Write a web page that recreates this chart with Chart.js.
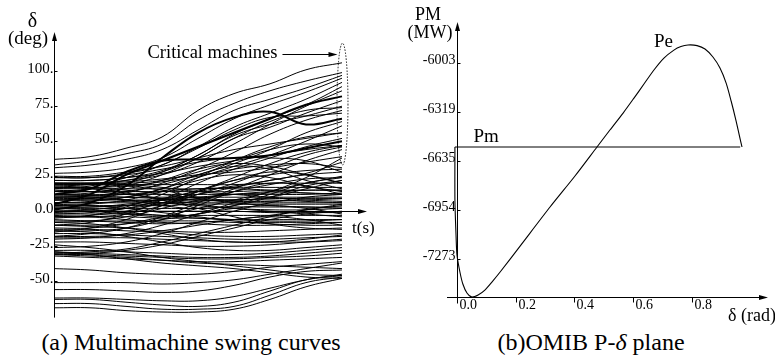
<!DOCTYPE html>
<html>
<head>
<meta charset="utf-8">
<script src="https://cdn.jsdelivr.net/npm/chart.js@4.4.1/dist/chart.umd.min.js"></script>
<style>
  html, body { margin: 0; padding: 0; background: #fff; }
  body { width: 775px; height: 356px; position: relative; overflow: hidden; font-family: "Liberation Serif", "Times New Roman", serif; color: #000; }
  .panel { position: absolute; top: 0; height: 325px; }
  .cap { position: absolute; top: 329px; font-size: 24px; line-height: 26px; text-align: center; white-space: nowrap; }
</style>
</head>
<body>
<div class="panel" style="left:0;width:390px"><canvas id="swing"></canvas></div>
<div class="panel" style="left:390px;width:385px"><canvas id="omib"></canvas></div>
<div class="cap" style="left:41px;width:300px">(a) Multimachine swing curves</div>
<div class="cap" style="left:491px;width:200px">(b)OMIB P-<i>δ</i> plane</div>

<script>
// ---------- (a) rotor angle swing curves, degrees, sampled every 0.2 s ----------
const swingTimes = [0, 0.2, 0.4, 0.6, 0.8, 1.0, 1.2, 1.4, 1.6];
const swingTicks = [-50, -25, 0, 25, 50, 75, 100];
const swingTickLabels = ['-50.', '-25.', '0.0', '25.', '50.', '75.', '100.'];
const criticalBand = [33, 120];      // angle range circled at the end of the run
const criticalLabelLevel = 112;

// machines that pull away (critical group)
const upperCurves = [
  [37, 39, 45, 53, 72, 84, 91, 101, 106],
  [33, 36, 41, 48, 65, 77, 86, 93, 99],
  [31, 33, 37, 44, 58, 72, 80, 88, 97],
  [27, 28, 31, 38, 52, 66, 76, 85, 95],
  [24, 24, 27, 33, 46, 60, 70, 80, 92],
  [22, 22, 24, 29, 40, 55, 66, 76, 89],
  [20, 20, 22, 26, 35, 48, 62, 75, 86],
  [18, 19, 22, 28, 38, 52, 60, 70, 79],
  [14, 16, 20, 28, 40, 54, 62, 68, 75],
  [16, 18, 24, 33, 45, 58, 67, 68, 70],
  [12, 13, 18, 26, 38, 52, 64, 72, 74],
  [8, 9, 13, 20, 30, 42, 55, 65, 72],
  [25, 25, 28, 32, 38, 44, 48, 52, 56],
  [22, 22, 24, 27, 32, 36, 40, 44, 47],
  [20, 20, 21, 23, 26, 28, 31, 35, 39],
  [17, 17, 18, 21, 25, 30, 33, 34, 31],
  [24, 24, 26, 30, 35, 38, 38, 36, 28],
  [10, 11, 14, 19, 26, 34, 44, 56, 64],
  [6, 7, 10, 16, 24, 32, 40, 50, 61]
];
const heavyCurves = [
  [5, 12, 26, 36, 46, 56, 66, 76, 82],
  [1, 6, 18, 38, 56, 67, 71, 62, 66],
  [12, 16, 28, 36, 37, 38, 40, 45, 50]
];
const crossingCurves = [
  [-5, -3, 3, 12, 24, 36, 46, 53, 56],
  [-10, -8, -2, 8, 20, 30, 38, 46, 52],
  [-15, -12, -6, 4, 14, 24, 34, 42, 47],
  [-18, -16, -12, -4, 6, 16, 26, 36, 44],
  [-8, -7, -4, 2, 8, 14, 19, 23, 24],
  [-20, -19, -16, -10, -2, 6, 14, 20, 25],
  [-2, -1, 2, 8, 15, 22, 26, 29, 30],
  [0, 1, 4, 9, 14, 18, 22, 27, 35],
  [-12, -12, -9, -4, 2, 8, 14, 24, 38],
  [-30, -30, -28, -24, -18, -12, -6, -2, 0],
  [-26, -25, -22, -16, -8, 0, 6, 10, 12],
  [-30, -29, -27, -22, -16, -10, -4, 1, 4],
  [-6, -7, -8, -9, -8, -6, -3, 1, 5],
  [3, 3, 5, 8, 12, 17, 22, 26, 28],
  [-4, -4, -2, 4, 12, 20, 30, 40, 46],
  [20, 20, 20, 22, 28, 36, 44, 48, 46]
];
// machines that swing up and come back
const swayCurves = [
  [14, 14, 16, 22, 30, 34, 32, 26, 20],
  [8, 8, 10, 16, 26, 32, 30, 22, 16],
  [-4, -3, 0, 6, 14, 22, 28, 26, 20],
  [4, 5, 8, 14, 22, 26, 24, 18, 14],
  [-14, -14, -12, -6, 4, 14, 20, 18, 12],
  [0, 0, -2, -4, -2, 4, 12, 20, 24],
  [10, 10, 8, 4, 2, 4, 10, 18, 22],
  [19, 19, 18, 15, 10, 8, 10, 16, 22],
  [-10, -10, -9, -6, -2, 2, 4, 2, -2],
  [-18, -18, -17, -14, -10, -6, -4, -6, -10],
  [17, 16, 13, 8, 2, -4, -9, -12, -13]
];
const flatCurves = [
  [19, 19, 19, 19, 19, 19, 20, 20, 20],
  [16, 16, 16, 16, 16, 17, 17, 17, 17],
  [14, 14, 14, 14, 14, 14, 15, 15, 15],
  [12, 12, 12, 12, 12, 12, 12, 12, 13],
  [10, 10, 10, 10, 10, 10, 10, 10, 10],
  [8, 8, 8, 8, 8, 8, 9, 9, 9],
  [6, 6, 6, 6, 6, 6, 6, 6, 6],
  [4, 4, 4, 4, 5, 5, 5, 5, 5],
  [2, 2, 2, 2, 2, 3, 3, 3, 3],
  [0, 0, 0, 0, 0, 0, -1, -1, -1],
  [-2, -2, -2, -3, -3, -3, -3, -3, -3],
  [-4, -4, -4, -5, -5, -6, -6, -6, -6],
  [-7, -7, -7, -7, -7, -8, -8, -8, -8]
];
const driftCurves = [
  [6, 6, 7, 8, 10, 12, 13, 13, 12],
  [3, 3, 4, 6, 9, 12, 14, 15, 15],
  [12, 11, 10, 9, 8, 7, 7, 8, 9],
  [9, 9, 8, 6, 4, 2, 1, 1, 2],
  [15, 14, 12, 9, 5, 2, 0, -2, -4],
  [2, 1, -1, -3, -5, -6, -7, -7, -6],
  [-3, -4, -6, -8, -9, -10, -10, -9, -8],
  [5, 4, 2, -1, -4, -7, -9, -10, -10],
  [20, 20, 19, 17, 14, 12, 10, 8, 7],
  [11, 11, 12, 14, 16, 16, 15, 13, 12],
  [-1, 0, 2, 5, 7, 8, 8, 7, 6],
  [18, 17, 15, 12, 9, 6, 4, 3, 2]
];
const lowerCurves = [
  [-10, -11, -12, -14, -15, -15, -14, -13, -12],
  [-13, -13, -14, -15, -17, -18, -18, -17, -16],
  [-16, -16, -17, -18, -19, -20, -20, -19, -18],
  [-19, -19, -19, -20, -21, -22, -22, -22, -21],
  [-22, -22, -23, -24, -25, -25, -24, -22, -20],
  [-28, -28, -29, -30, -31, -31, -30, -28, -26],
  [-29, -30, -31, -32, -33, -33, -32, -30, -28],
  [-31, -31, -32, -33, -34, -34, -33, -32, -30],
  [-32, -33, -34, -35, -36, -36, -35, -34, -33],
  [-29, -31, -34, -37, -39, -41, -44, -47, -48],
  [-24, -26, -29, -33, -36, -39, -42, -45, -46],
  [-41, -42, -44, -45, -45, -43, -40, -38, -36],
  [-31, -32, -33, -35, -37, -38, -39, -40, -41],
  [-14, -15, -18, -22, -26, -28, -28, -26, -24],
  [-8, -9, -12, -16, -20, -22, -22, -20, -17]
];
const bottomCurves = [
  [-69, -69, -71, -72, -72, -70, -63, -54, -48],
  [-66, -66, -68, -70, -70, -68, -60, -51, -47],
  [-63, -63, -65, -67, -68, -65, -57, -49, -46],
  [-62, -62, -63, -64, -64, -61, -55, -49, -45],
  [-56, -56, -57, -58, -57, -53, -47, -43, -42],
  [-51, -51, -51, -52, -51, -49, -45, -41, -37]
];

// ---------- (b) OMIB equivalent, power vs angle ----------
const peDelta = [-0.007, -0.007, -0.003, 0, 0.010, 0.020, 0.034, 0.051, 0.072, 0.095, 0.119, 0.147,
                 0.215, 0.317, 0.402, 0.477, 0.521, 0.566, 0.603, 0.637, 0.671, 0.705, 0.739, 0.763,
                 0.787, 0.818, 0.845, 0.872, 0.896, 0.917, 0.934, 0.951, 0.964, 0.971];
const pePower = [-6547, -6891, -7131, -7247, -7357, -7435, -7493, -7519, -7506, -7474, -7422, -7357,
                 -7189, -6936, -6735, -6547, -6437, -6327, -6230, -6139, -6048, -5971, -5919, -5896,
                 -5886, -5890, -5912, -5964, -6035, -6133, -6249, -6379, -6489, -6547];
const pmDelta = [-0.007, 0.965];
const pmPower = [-6547, -6547];
const omibPowerTicks = [-6003, -6319, -6635, -6954, -7273];
const omibAngleTicks = [0, 0.2, 0.4, 0.6, 0.8];
const omibAngleLabels = ['0.0', '0.2', '0.4', '0.6', '0.8'];

const SERIF = '"Liberation Serif", "Times New Roman", serif';

function arrowHead(ctx, x, y, dir) {
  ctx.beginPath();
  if (dir === 'up') {
    ctx.moveTo(x, y); ctx.lineTo(x - 2.5, y + 9); ctx.lineTo(x + 2.5, y + 9);
  } else {
    ctx.moveTo(x, y); ctx.lineTo(x - 9, y - 2.5); ctx.lineTo(x - 9, y + 2.5);
  }
  ctx.closePath();
  ctx.fill();
}

function curveSet(list, width) {
  return list.map(vals => ({
    data: vals.map((v, i) => ({ x: swingTimes[i], y: v })),
    borderColor: '#000',
    borderWidth: width,
    pointRadius: 0,
    tension: 0.4,
    fill: false
  }));
}

// axes, ticks and annotations of the swing-curve panel
const swingAxes = {
  id: 'swingAxes',
  afterDraw(chart) {
    const { ctx, chartArea: a, scales: { x, y } } = chart;
    const ax = Math.round(x.getPixelForValue(0)) + 0.5;
    const ay = Math.round(y.getPixelForValue(0)) + 0.5;
    ctx.save();
    ctx.strokeStyle = '#000';
    ctx.fillStyle = '#000';
    ctx.lineWidth = 1;
    ctx.beginPath();
    ctx.moveTo(ax, a.bottom); ctx.lineTo(ax, a.top + 6);
    ctx.moveTo(ax, ay); ctx.lineTo(a.right - 6, ay);
    ctx.stroke();
    arrowHead(ctx, ax, a.top, 'up');
    arrowHead(ctx, a.right, ay, 'right');

    ctx.font = '15px ' + SERIF;
    ctx.textAlign = 'right';
    ctx.textBaseline = 'alphabetic';
    swingTicks.forEach((v, i) => {
      const py = Math.round(y.getPixelForValue(v)) + 0.5;
      ctx.beginPath(); ctx.moveTo(ax, py); ctx.lineTo(ax + 3, py); ctx.stroke();
      ctx.fillText(swingTickLabels[i], ax - 1, py + 1);
    });

    ctx.textAlign = 'center';
    ctx.textBaseline = 'middle';
    ctx.font = '20px ' + SERIF;
    ctx.fillText('δ', ax - 22, a.top - 10);
    ctx.font = '19px ' + SERIF;
    ctx.fillText('(deg)', ax - 26.5, a.top + 7);
    ctx.font = '17px ' + SERIF;
    ctx.textAlign = 'left';
    ctx.fillText('t(s)', a.right - 15, ay + 17);

    // circled group of critical machines
    const ex = x.getPixelForValue(swingTimes[swingTimes.length - 1]) + 0.5;
    const eTop = y.getPixelForValue(criticalBand[1]);
    const eBot = y.getPixelForValue(criticalBand[0]);
    ctx.lineWidth = 0.9;
    ctx.setLineDash([1.5, 1.5]);
    ctx.beginPath();
    ctx.ellipse(ex, (eTop + eBot) / 2, 5.5, (eBot - eTop) / 2, 0, 0, Math.PI * 2);
    ctx.stroke();
    ctx.setLineDash([]);
    ctx.lineWidth = 1;
    const ly = Math.round(y.getPixelForValue(criticalLabelLevel)) + 0.5;
    ctx.beginPath(); ctx.moveTo(ex - 60, ly); ctx.lineTo(ex - 12, ly); ctx.stroke();
    arrowHead(ctx, ex - 5, ly, 'right');
    ctx.font = '18.5px ' + SERIF;
    ctx.textAlign = 'right';
    ctx.fillText('Critical machines', ex - 65, ly - 1);
    ctx.restore();
  }
};

// axes, ticks and labels of the P-delta panel
const omibAxes = {
  id: 'omibAxes',
  afterDraw(chart) {
    const { ctx, chartArea: a, scales: { x, y } } = chart;
    const x0 = Math.round(x.getPixelForValue(0)) + 0.5;
    const yb = Math.round(a.bottom) + 0.5;
    ctx.save();
    ctx.strokeStyle = '#000';
    ctx.fillStyle = '#000';
    ctx.lineWidth = 1;
    ctx.beginPath();
    ctx.moveTo(x0, yb + 6); ctx.lineTo(x0, a.top + 6);
    ctx.moveTo(a.left, yb); ctx.lineTo(a.right - 6, yb);
    ctx.stroke();
    arrowHead(ctx, x0, a.top, 'up');
    arrowHead(ctx, a.right, yb, 'right');

    ctx.font = '14px ' + SERIF;
    ctx.textAlign = 'right';
    ctx.textBaseline = 'alphabetic';
    omibPowerTicks.forEach(v => {
      const py = Math.round(y.getPixelForValue(v)) + 0.5;
      ctx.beginPath(); ctx.moveTo(x0, py); ctx.lineTo(x0 + 3, py); ctx.stroke();
      ctx.fillText(String(v), x0 - 2, py);
    });

    ctx.textAlign = 'left';
    omibAngleTicks.forEach((v, i) => {
      const px = Math.round(x.getPixelForValue(v)) + 0.5;
      if (v !== 0) { ctx.beginPath(); ctx.moveTo(px, yb); ctx.lineTo(px, yb + 5); ctx.stroke(); }
      ctx.fillText(omibAngleLabels[i], px + 2, yb + 11);
    });

    ctx.textBaseline = 'middle';
    ctx.textAlign = 'center';
    ctx.font = '18px ' + SERIF;
    ctx.fillText('PM', x0 - 29.5, a.top - 7);
    ctx.fillText('(MW)', x0 - 27.5, a.top + 11);
    ctx.textAlign = 'left';
    ctx.fillText('δ (rad)', a.right - 40, yb + 19);

    ctx.font = '19px ' + SERIF;
    const pmY = y.getPixelForValue(pmPower[0]);
    ctx.fillText('Pm', x0 + 16, pmY - 10);
    let k = 0;
    pePower.forEach((p, i) => { if (p > pePower[k]) k = i; });
    ctx.fillText('Pe', x.getPixelForValue(peDelta[k]) - 34, y.getPixelForValue(pePower[k]) - 3);
    ctx.restore();
  }
};

const commonOpts = {
  responsive: true,
  maintainAspectRatio: false,
  animation: false,
  devicePixelRatio: 1,
  events: [],
  plugins: { legend: { display: false }, tooltip: { enabled: false } }
};

new Chart(document.getElementById('swing'), {
  type: 'line',
  data: {
    datasets: [
      ...curveSet(bottomCurves, 1),
      ...curveSet(lowerCurves, 1),
      ...curveSet(flatCurves, 1),
      ...curveSet(driftCurves, 1),
      ...curveSet(swayCurves, 1),
      ...curveSet(crossingCurves, 1),
      ...curveSet(upperCurves, 1),
      ...curveSet(heavyCurves, 2)
    ]
  },
  options: {
    ...commonOpts,
    layout: { padding: { left: 54, right: 23, top: 32, bottom: 7.4 } },
    scales: {
      x: { type: 'linear', min: 0, max: 1.739, display: false },
      y: { type: 'linear', min: -76, max: 128, display: false }
    }
  },
  plugins: [swingAxes]
});

new Chart(document.getElementById('omib'), {
  type: 'line',
  data: {
    datasets: [
      {
        data: pmDelta.map((d, i) => ({ x: d, y: pmPower[i] })),
        borderColor: '#000', borderWidth: 1, pointRadius: 0, tension: 0
      },
      {
        data: peDelta.map((d, i) => ({ x: d, y: pePower[i] })),
        borderColor: '#000', borderWidth: 1.1, pointRadius: 0, tension: 0.25
      }
    ]
  },
  options: {
    ...commonOpts,
    layout: { padding: { left: 57, right: 7, top: 22, bottom: 28 } },
    scales: {
      x: { type: 'linear', min: -0.034, max: 1.0596, display: false },
      y: { type: 'linear', min: -7519, max: -5737, display: false }
    }
  },
  plugins: [omibAxes]
});
</script>
</body>
</html>
